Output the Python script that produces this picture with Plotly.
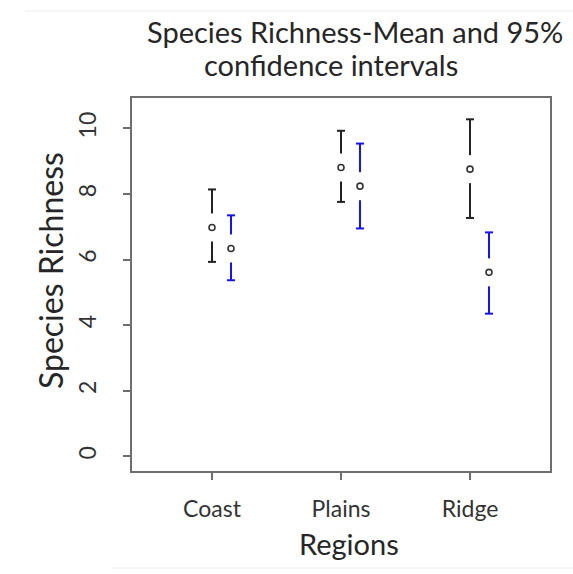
import plotly.graph_objects as go

# Species richness by region: mean and 95% confidence limits for two groups
regions = ["Coast", "Plains", "Ridge"]
black_mean = [6.98, 8.81, 8.76]
black_lower = [5.93, 7.76, 7.27]
black_upper = [8.14, 9.93, 10.28]
blue_mean = [6.34, 8.24, 5.61]
blue_lower = [5.37, 6.95, 4.35]
blue_upper = [7.35, 9.54, 6.83]
y_ticks = [0, 2, 4, 6, 8, 10]

W, H = 573, 574
M_L, M_R, M_T, M_B = 132, 23, 98, 103
X_RANGE = [0.38, 3.62]
Y_RANGE = [-0.45, 10.93]
plot_w = W - M_L - M_R
plot_h = H - M_T - M_B
x_per_px = (X_RANGE[1] - X_RANGE[0]) / plot_w
y_per_px = (Y_RANGE[1] - Y_RANGE[0]) / plot_h

GAP = 14 * y_per_px        # blank space between point and whisker
CAP = 4 * x_per_px         # half width of whisker caps
OFFSET = 19 * x_per_px     # horizontal shift of the second group

FONT = "Lato"
TEXT = "#262626"


def ci_segments(xs, means, lows, highs):
    """Whiskers with a gap around the point and caps at both ends."""
    px, py = [], []
    for x, m, lo, hi in zip(xs, means, lows, highs):
        # upper whisker + cap
        px += [x, x, None, x - CAP, x + CAP, None]
        py += [m + GAP, hi, None, hi, hi, None]
        # lower whisker + cap
        px += [x, x, None, x - CAP, x + CAP, None]
        py += [m - GAP, lo, None, lo, lo, None]
    return px, py


x_black = [i + 1 for i in range(len(regions))]
x_blue = [x + OFFSET for x in x_black]

fig = go.Figure()

for xs, means, lows, highs, colour in [
    (x_black, black_mean, black_lower, black_upper, "#222222"),
    (x_blue, blue_mean, blue_lower, blue_upper, "#1414f5"),
]:
    sx, sy = ci_segments(xs, means, lows, highs)
    fig.add_trace(go.Scatter(x=sx, y=sy, mode="lines",
                             line=dict(color=colour, width=2),
                             hoverinfo="skip"))
    fig.add_trace(go.Scatter(x=xs, y=means, mode="markers",
                             marker=dict(symbol="circle-open", size=6,
                                         color="#333333",
                                         line=dict(width=1.6, color="#333333"))))

axis_common = dict(
    showline=True, mirror=True, linecolor="#6e6e6e", linewidth=2,
    ticks="outside", ticklen=7, tickwidth=1.5, tickcolor="#6e6e6e",
    showgrid=False, zeroline=False,
)

fig.update_xaxes(range=X_RANGE, tickvals=x_black, ticktext=regions,
                 tickfont=dict(family=FONT, size=23, color="#333333"),
                 ticklabelstandoff=9, **axis_common)
fig.update_yaxes(range=Y_RANGE, tickvals=y_ticks, tickangle=-90,
                 tickfont=dict(family=FONT, size=23, color="#333333"),
                 ticklabelstandoff=18, **axis_common)


def px_x(p):
    return (p - M_L) / plot_w


def px_y(p):
    return (H - M_B - p) / plot_h


annotations = [
    dict(text="Species Richness-Mean and 95%", x=px_x(355), y=px_y(31),
         font=dict(size=29)),
    dict(text="confidence intervals", x=px_x(331), y=px_y(65),
         font=dict(size=29)),
    dict(text="Regions", x=px_x(349), y=px_y(543), font=dict(size=29)),
    dict(text="Species Richness", x=px_x(50), y=px_y(271),
         font=dict(size=32), textangle=-90),
]
for a in annotations:
    a.update(xref="paper", yref="paper", showarrow=False,
             xanchor="center", yanchor="middle")
    a["font"].update(family=FONT, color=TEXT)
fig.update_layout(annotations=annotations)

# faint page edges around the figure
for x0, y0, x1, y1 in [(25, 11, W, 11), (112, 568, W, 568)]:
    fig.add_shape(type="line", xref="paper", yref="paper",
                  x0=px_x(x0), y0=px_y(y0), x1=px_x(x1), y1=px_y(y1),
                  line=dict(color="#ececec", width=1))

fig.update_layout(
    width=W, height=H,
    margin=dict(l=M_L, r=M_R, t=M_T, b=M_B),
    paper_bgcolor="white", plot_bgcolor="white",
    showlegend=False,
)

fig.write_html("out.html")
